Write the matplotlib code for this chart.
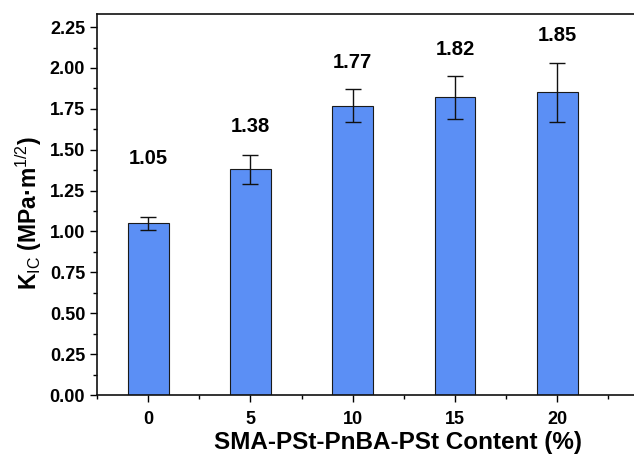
import matplotlib
matplotlib.use("Agg")
import matplotlib.pyplot as plt
from matplotlib.ticker import MultipleLocator

plt.rcParams['font.family'] = ['Liberation Sans', 'DejaVu Sans']
plt.rcParams['mathtext.fontset'] = 'custom'
plt.rcParams['mathtext.rm'] = 'Liberation Sans'
plt.rcParams['mathtext.bf'] = 'Liberation Sans:bold'

content = [0, 5, 10, 15, 20]
kic = [1.05, 1.38, 1.77, 1.82, 1.85]
kic_err = [0.04, 0.09, 0.10, 0.13, 0.18]
value_labels = ["1.05", "1.38", "1.77", "1.82", "1.85"]
label_offsets_pt = [42, 20, 19, 19, 19.5]

fig = plt.figure(figsize=(6.34, 4.59), dpi=100)
ax = fig.add_axes([0.153, 0.1394, 0.847, 0.8301])

ax.bar(content, kic, width=2, color='#5b8ff5', edgecolor='#1a1a1a', linewidth=0.8, zorder=2)
ax.errorbar(content, kic, yerr=kic_err, fmt='none', ecolor='#111111', elinewidth=1.0,
            capsize=5.5, capthick=1.0, zorder=3)

for x, y, e, t, off in zip(content, kic, kic_err, value_labels, label_offsets_pt):
    ax.annotate(t, xy=(x, y + e), xytext=(0, off), textcoords='offset points',
                ha='center', va='center', fontsize=14.5, fontweight='bold')

ax.set_xlim(-2.5, 23.75)
ax.set_ylim(0, 2.33)
ax.xaxis.set_major_locator(MultipleLocator(5))
ax.xaxis.set_minor_locator(MultipleLocator(2.5))
ax.yaxis.set_major_locator(MultipleLocator(0.25))
ax.yaxis.set_minor_locator(MultipleLocator(0.125))
ax.yaxis.set_major_formatter(plt.FuncFormatter(lambda v, p: f"{v:.2f}"))

ax.tick_params(which='major', direction='out', length=5, width=1, labelsize=13)
ax.tick_params(axis='x', which='major', pad=6.5)
ax.tick_params(which='minor', direction='out', length=3, width=1)
for lbl in ax.get_xticklabels() + ax.get_yticklabels():
    lbl.set_fontweight('bold')

ax.spines['right'].set_visible(False)
for s in ['left', 'top', 'bottom']:
    ax.spines[s].set_linewidth(1.2)
    ax.spines[s].set_color('#111111')

ax.set_xlabel('SMA-PSt-PnBA-PSt Content (%)', fontsize=17.5, fontweight='bold')
ax.xaxis.set_label_coords(0.56, -0.094)
ax.set_ylabel(r'K$_{\mathrm{IC}}$ (MPa·m$^{\mathrm{1/2}}$)', fontsize=16.5, fontweight='bold')
ax.yaxis.set_label_coords(-0.098, 0.478)

fig.savefig('out.png', dpi=100)
